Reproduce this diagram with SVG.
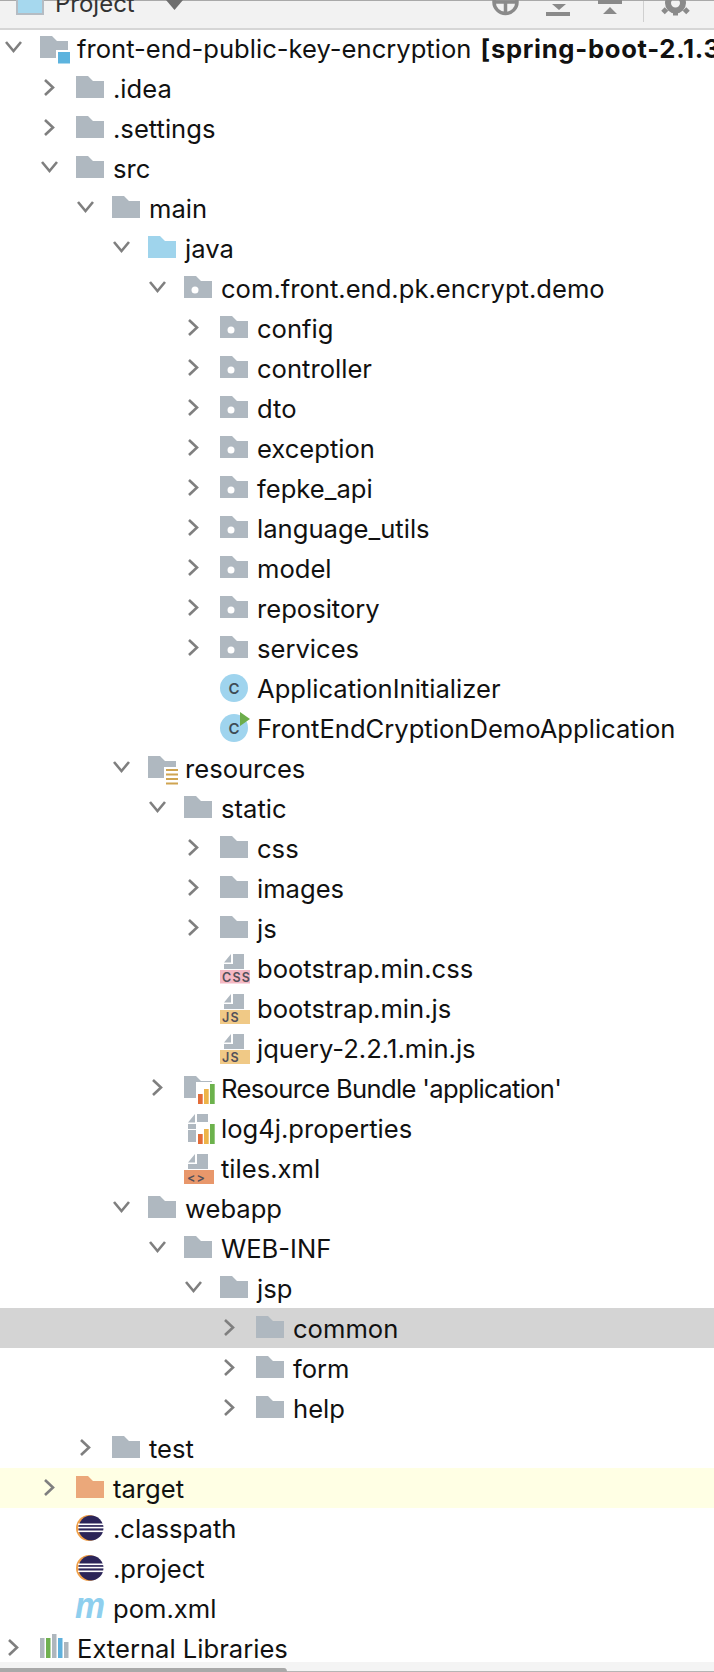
<svg xmlns="http://www.w3.org/2000/svg" width="714" height="1672" viewBox="0 0 714 1672">
<style>
text{font-family:"Inter","Liberation Sans",sans-serif;font-size:25.600px;fill:#111}
.b{font-weight:700;letter-spacing:.7px}
.chev{fill:none;stroke:#7f7f7f;stroke-width:2.600}
.tag{font-size:12.500px;font-weight:600;fill:#54505a;letter-spacing:1.200px}
.c{font-size:15px;font-weight:600;fill:#3f4b55}
.tb{fill:#8a8a8a}
</style>
<defs>
<path id="cr" class="chev" d="M-31 4L-23 11.500L-31 19"/>
<path id="cd" class="chev" d="M-34 6L-26.500 15L-19 6"/>
<path id="fshape" d="M0 0H12L17 5H28V22H0Z"/>
<use id="folder" href="#fshape" fill="#afb8c0"/>
<g id="pkg"><use href="#folder"/><circle cx="11" cy="14" r="3.500" fill="#fff"/></g>
<path id="filebg" d="M13 -2H24V13H4V8H13ZM11 -2V6.500H4Z" fill="#afb8c0"/>
<g id="bars"><rect x="12" y="6" width="18" height="24" fill="#fff"/><rect x="14" y="18" width="4.700" height="10" fill="#e36b38"/><rect x="20" y="13" width="4.700" height="15" fill="#edb44a"/><rect x="26" y="8" width="4.700" height="20" fill="#6cb24c"/></g>
<g id="cls"><circle cx="14" cy="12" r="14" fill="#9fd4ee"/><text class="c" x="14" y="17.500" text-anchor="middle">C</text></g>
<g id="ecl"><circle cx="13" cy="12" r="13" fill="#f0a04a"/><circle cx="15" cy="12" r="12.500" fill="#2b2458"/><rect x="2" y="7.500" width="26" height="1.600" fill="#fff"/><rect x="2" y="10.800" width="26" height="1.600" fill="#fff"/><rect x="2" y="14.500" width="26" height="1.600" fill="#fff"/></g>
</defs>

<g id="toolbar">
<rect width="714" height="28" fill="#f2f2f2"/>
<rect width="714" height="1" fill="#a9a9a9"/>
<rect y="28" width="714" height="2" fill="#d6d6d6"/>
<rect x="17" y="-4" width="26" height="18" fill="#a6d8ee" stroke="#b5bcc3" stroke-width="2"/>
<text x="55" y="12" style="fill:#333;font-size:24px">Project</text>
<path d="M166 0H183L174.500 10Z" fill="#6e6e6e"/>
<circle cx="505.500" cy="2" r="11.500" fill="none" stroke="#8a8a8a" stroke-width="3.500"/>
<path d="M505.500 2V14M494 2H517" stroke="#8a8a8a" stroke-width="3.500" fill="none"/>
<path class="tb" d="M552 4H566L559 10ZM546 12H570V16H546Z"/>
<path class="tb" d="M598 0H622V4H598ZM603 14L610 7L617 14Z"/>
<rect x="643" y="1" width="1" height="21" fill="#d0d0d0"/>
<circle cx="675.500" cy="3" r="7.500" fill="none" stroke="#8a8a8a" stroke-width="6"/>
<path d="M675.500 10V15.500M666.500 9L663 12.500M684.500 9L688 12.500" stroke="#8a8a8a" stroke-width="5" fill="none"/>
</g>

<g id="row-backgrounds">
<rect y="1308" width="714" height="40" fill="#d4d4d4"/>
<rect y="1468" width="714" height="40" fill="#ffffe4"/>
</g>

<g id="node-root"><use href="#cd" x="40" y="36"/><use href="#folder" x="40" y="36"/><rect x="56" y="50" width="15" height="14" fill="#fff"/><rect x="58" y="52" width="12" height="11.500" fill="#5cb3de"/><text x="77" y="58">front-end-public-key-encryption <tspan class="b" dx="2">[spring-boot-2.1.3</tspan></text></g>
<g id="node-idea"><use href="#cr" x="76" y="76"/><use href="#folder" x="76" y="76"/><text x="113" y="98">.idea</text></g>
<g id="node-settings"><use href="#cr" x="76" y="116"/><use href="#folder" x="76" y="116"/><text x="113" y="138">.settings</text></g>
<g id="node-src"><use href="#cd" x="76" y="156"/><use href="#folder" x="76" y="156"/><text x="113" y="178">src</text></g>
<g id="node-main"><use href="#cd" x="112" y="196"/><use href="#folder" x="112" y="196"/><text x="149" y="218">main</text></g>
<g id="node-java"><use href="#cd" x="148" y="236"/><use href="#fshape" x="148" y="236" fill="#9fd4ec"/><text x="185" y="258">java</text></g>
<g id="node-com"><use href="#cd" x="184" y="276"/><use href="#pkg" x="184" y="276"/><text x="221" y="298">com.front.end.pk.encrypt.demo</text></g>
<g id="node-config"><use href="#cr" x="220" y="316"/><use href="#pkg" x="220" y="316"/><text x="257" y="338">config</text></g>
<g id="node-controller"><use href="#cr" x="220" y="356"/><use href="#pkg" x="220" y="356"/><text x="257" y="378">controller</text></g>
<g id="node-dto"><use href="#cr" x="220" y="396"/><use href="#pkg" x="220" y="396"/><text x="257" y="418">dto</text></g>
<g id="node-exception"><use href="#cr" x="220" y="436"/><use href="#pkg" x="220" y="436"/><text x="257" y="458">exception</text></g>
<g id="node-fepke"><use href="#cr" x="220" y="476"/><use href="#pkg" x="220" y="476"/><text x="257" y="498">fepke_api</text></g>
<g id="node-language"><use href="#cr" x="220" y="516"/><use href="#pkg" x="220" y="516"/><text x="257" y="538">language_utils</text></g>
<g id="node-model"><use href="#cr" x="220" y="556"/><use href="#pkg" x="220" y="556"/><text x="257" y="578">model</text></g>
<g id="node-repository"><use href="#cr" x="220" y="596"/><use href="#pkg" x="220" y="596"/><text x="257" y="618">repository</text></g>
<g id="node-services"><use href="#cr" x="220" y="636"/><use href="#pkg" x="220" y="636"/><text x="257" y="658">services</text></g>
<g id="node-appinit"><use href="#cls" x="220" y="676"/><text x="257" y="698">ApplicationInitializer</text></g>
<g id="node-frontend"><use href="#cls" x="220" y="716"/><path d="M240 712L250 719L240 726Z" fill="#6cad4b"/><text x="257" y="738">FrontEndCryptionDemoApplication</text></g>
<g id="node-resources"><use href="#cd" x="148" y="756"/><use href="#folder" x="148" y="756"/><rect x="164" y="767" width="16" height="18" fill="#fff"/><path d="M166 770H178M166 774.500H178M166 779H178M166 783.500H178" stroke="#cfa450" stroke-width="2" fill="none"/><text x="185" y="778">resources</text></g>
<g id="node-static"><use href="#cd" x="184" y="796"/><use href="#folder" x="184" y="796"/><text x="221" y="818">static</text></g>
<g id="node-css"><use href="#cr" x="220" y="836"/><use href="#folder" x="220" y="836"/><text x="257" y="858">css</text></g>
<g id="node-images"><use href="#cr" x="220" y="876"/><use href="#folder" x="220" y="876"/><text x="257" y="898">images</text></g>
<g id="node-js"><use href="#cr" x="220" y="916"/><use href="#folder" x="220" y="916"/><text x="257" y="938">js</text></g>
<g id="node-bscss"><use href="#filebg" x="220" y="956"/><rect x="220" y="970" width="30" height="13.500" fill="#f4b8c4"/><text class="tag" x="222" y="982">CSS</text><text x="257" y="978">bootstrap.min.css</text></g>
<g id="node-bsjs"><use href="#filebg" x="220" y="996"/><rect x="220" y="1010" width="30" height="14" fill="#f0c986"/><text class="tag" x="222" y="1022">JS</text><text x="257" y="1018">bootstrap.min.js</text></g>
<g id="node-jquery"><use href="#filebg" x="220" y="1036"/><rect x="220" y="1050" width="30" height="14" fill="#f0c986"/><text class="tag" x="222" y="1062">JS</text><text x="257" y="1058">jquery-2.2.1.min.js</text></g>
<g id="node-bundle"><use href="#cr" x="184" y="1076"/><use href="#folder" x="184" y="1076"/><use href="#bars" x="184" y="1076"/><text x="221" y="1098" textLength="341">Resource Bundle 'application'</text></g>
<g id="node-log4j"><use href="#filebg" x="184" y="1116"/><rect x="188" y="1130" width="20" height="12" fill="#afb8c0"/><use href="#bars" x="184" y="1116"/><text x="221" y="1138">log4j.properties</text></g>
<g id="node-tiles"><use href="#filebg" x="184" y="1156"/><rect x="184" y="1170" width="30" height="14" fill="#e8976b"/><text class="tag" x="187" y="1182">&lt;&gt;</text><text x="221" y="1178">tiles.xml</text></g>
<g id="node-webapp"><use href="#cd" x="148" y="1196"/><use href="#folder" x="148" y="1196"/><text x="185" y="1218">webapp</text></g>
<g id="node-webinf"><use href="#cd" x="184" y="1236"/><use href="#folder" x="184" y="1236"/><text x="221" y="1258">WEB-INF</text></g>
<g id="node-jsp"><use href="#cd" x="220" y="1276"/><use href="#folder" x="220" y="1276"/><text x="257" y="1298">jsp</text></g>
<g id="node-common"><use href="#cr" x="256" y="1316"/><use href="#folder" x="256" y="1316"/><text x="293" y="1338">common</text></g>
<g id="node-form"><use href="#cr" x="256" y="1356"/><use href="#folder" x="256" y="1356"/><text x="293" y="1378">form</text></g>
<g id="node-help"><use href="#cr" x="256" y="1396"/><use href="#folder" x="256" y="1396"/><text x="293" y="1418">help</text></g>
<g id="node-test"><use href="#cr" x="112" y="1436"/><use href="#folder" x="112" y="1436"/><text x="149" y="1458">test</text></g>
<g id="node-target"><use href="#cr" x="76" y="1476"/><use href="#fshape" x="76" y="1476" fill="#eba87a"/><text x="113" y="1498">target</text></g>
<g id="node-classpath"><use href="#ecl" x="76" y="1516"/><text x="113" y="1538">.classpath</text></g>
<g id="node-project"><use href="#ecl" x="76" y="1556"/><text x="113" y="1578">.project</text></g>
<g id="node-pom"><text x="75" y="1618" textLength="30" lengthAdjust="spacingAndGlyphs" style="font-family:'Liberation Sans',sans-serif;font-size:36px;font-weight:700;font-style:italic;fill:#8fcfee">m</text><text x="113" y="1618">pom.xml</text></g>
<g id="node-external"><use href="#cr" x="40" y="1636"/><path d="M40 1638h4.500v20H40ZM52 1634h4.500v24H52ZM64 1642h4.500v16H64Z" fill="#aeb6bd"/><rect x="46" y="1638" width="4.500" height="20" fill="#6fb04f"/><rect x="58" y="1638" width="4.500" height="20" fill="#5fb0dc"/><text x="77" y="1658">External Libraries</text></g>

<g id="scrollbar">
<rect y="1662" width="714" height="10" fill="#f4f4f4"/>
<rect y="1671" width="714" height="1" fill="#b5b5b5"/>
<path d="M0 1672V1668H284Q287 1668 287 1672Z" fill="#a9a9a9"/>
</g>
</svg>
